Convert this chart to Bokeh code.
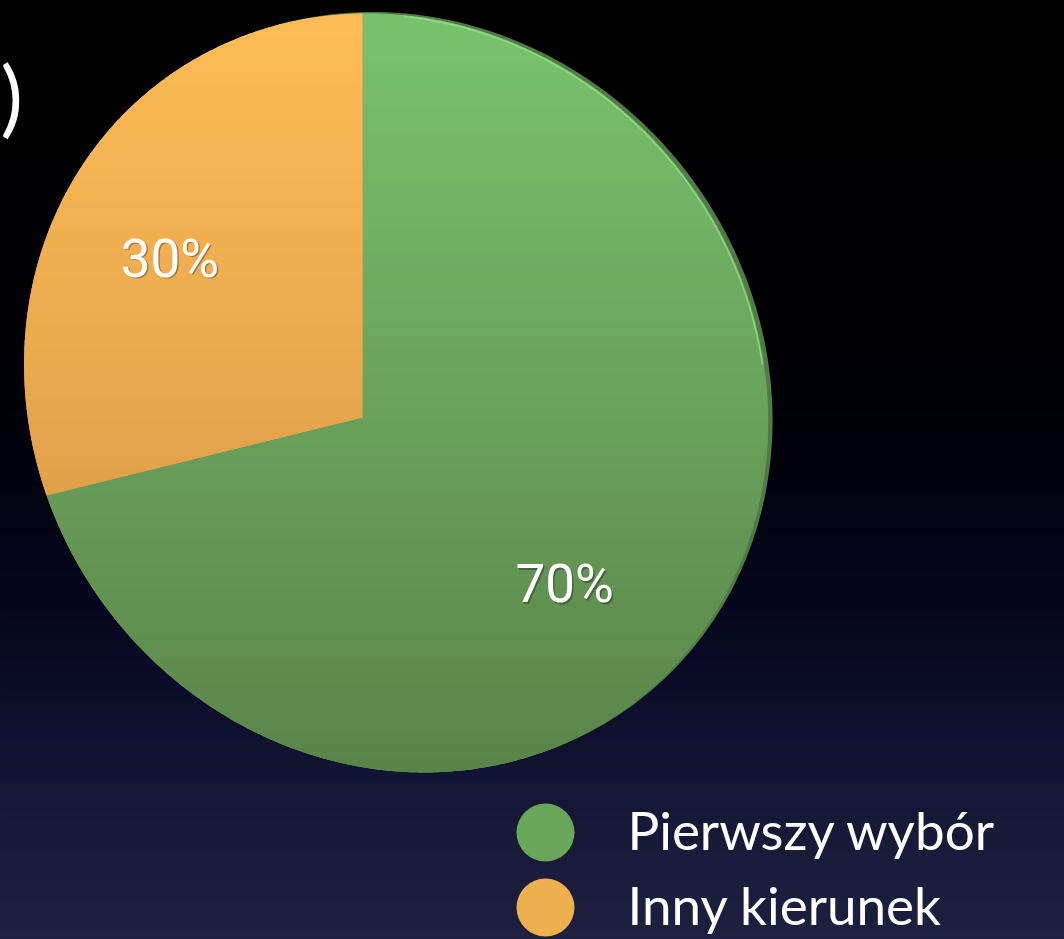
import numpy as np
from bokeh.plotting import figure
from bokeh.models import Range1d
from bokeh.core.properties import value
from bokeh.embed import file_html
from bokeh.resources import INLINE

# ---------------- data ----------------
categories = ["Pierwszy wybór", "Inny kierunek"]
shares = [70, 30]
pct_labels = ["70%", "30%"]
title_fragment = ")"

# ---------------- style ----------------
face_top = [(121, 194, 109), (255, 188, 86)]
face_bottom = [(90, 132, 73), (208, 146, 67)]
legend_colors = ["#6aa65a", "#eeb04c"]
rim_color = "#4f7b45"
label_radius = [0.665, 0.66]

W, H = 1064, 939
p = figure(width=W, height=H, output_backend="svg", toolbar_location=None,
           x_range=Range1d(0, W), y_range=Range1d(H, 0),
           min_border=0, border_fill_color=None, background_fill_color=None)
p.axis.visible = False
p.grid.visible = False
p.outline_line_color = None

# background gradient
bg_stops = [(0, (0, 0, 0)), (330, (0, 0, 3)), (480, (1, 1, 14)), (600, (5, 5, 30)),
            (700, (12, 13, 42)), (800, (21, 23, 52)), (939, (30, 32, 64))]
def bg_color(y):
    ys = [s[0] for s in bg_stops]
    c = [int(round(np.interp(y, ys, [s[1][k] for s in bg_stops]))) for k in range(3)]
    return "#%02x%02x%02x" % tuple(c)
bt = list(range(0, 940, 10))
p.quad(left=-10, right=W + 10, top=bt, bottom=[b + 11 for b in bt],
       fill_color=[bg_color(b + 5) for b in bt], line_color=None)

# perspective mapping of the pie disc
CX, CY = 362.0, 417.0
A, B, D, E, G, Hh = 368.0, 0.0, 31.0, -374.9, -0.09, -0.072
def project(x, y):
    w = 1 + G * x + Hh * y
    return CX + (A * x + B * y) / w, CY + (D * x + E * y) / w

fr = np.array(shares, dtype=float) / np.sum(shares)
ends = 90 - 360 * np.cumsum(fr)
starts = np.concatenate([[90.0], ends[:-1]])

def wedge_poly(a0, a1, r=1.0):
    n = max(4, int(abs(a1 - a0) * 2))
    th = np.radians(np.linspace(a0, a1, n))
    u0, v0 = project(0, 0)
    xs, ys = [u0], [v0]
    for t in th:
        u, v = project(r * np.cos(t), r * np.sin(t))
        xs.append(u); ys.append(v)
    return xs, ys

def clip(poly, y0, keep_ge):
    out = []
    n = len(poly)
    for i in range(n):
        P = poly[i]; Q = poly[(i + 1) % n]
        inP = P[1] >= y0 if keep_ge else P[1] <= y0
        inQ = Q[1] >= y0 if keep_ge else Q[1] <= y0
        if inP:
            out.append(P)
        if inP != inQ:
            t = (y0 - P[1]) / (Q[1] - P[1])
            out.append((P[0] + t * (Q[0] - P[0]), y0))
    return out

# rim (depth edge)
th = np.radians(np.linspace(0, 360, 361))
rim = [project(np.cos(t), np.sin(t)) for t in th]
p.patch([q[0] + 4.5 for q in rim], [q[1] - 1.5 for q in rim], fill_color=rim_color, line_color=None)

Y_TOP, Y_BOT = 13.0, 771.0
def face_color(i, y):
    f = (y - Y_TOP) / (Y_BOT - Y_TOP)
    c = [int(round(face_top[i][k] + f * (face_bottom[i][k] - face_top[i][k]))) for k in range(3)]
    c = [min(255, max(0, v)) for v in c]
    return "#%02x%02x%02x" % tuple(c)

for i in range(len(shares)):
    xs, ys = wedge_poly(starts[i], ends[i])
    p.patch(xs, ys, fill_color=face_color(i, 400), line_color=None)
    poly = list(zip(xs, ys))
    bxs, bys, bcs = [], [], []
    for y0 in range(0, 800, 12):
        part = clip(clip(poly, y0, True), y0 + 13, False)
        if len(part) >= 3:
            bxs.append([q[0] for q in part]); bys.append([q[1] for q in part])
            bcs.append(face_color(i, y0 + 6))
    p.patches(bxs, bys, fill_color=bcs, line_color=None)

# highlight along the upper-right edge
th = np.radians(np.linspace(12, 84, 80))
hl = [project(0.997 * np.cos(t), 0.997 * np.sin(t)) for t in th]
p.line([q[0] for q in hl], [q[1] for q in hl], line_color="#96e08a", line_width=1.6, line_alpha=0.75)

# percentage labels
mids = np.radians((starts + ends) / 2)
lx, ly = [], []
for i in range(len(shares)):
    u, v = project(label_radius[i] * np.cos(mids[i]), label_radius[i] * np.sin(mids[i]))
    lx.append(u); ly.append(v)
p.text([x + 1.5 for x in lx], [y + 1.5 for y in ly], text=pct_labels, text_font=value("Roboto"),
       text_font_size="53px", text_color="#000000", text_alpha=0.3,
       text_align="center", text_baseline="middle")
p.text(lx, ly, text=pct_labels, text_font=value("Roboto"), text_font_size="53px",
       text_color="#ffffff", text_align="center", text_baseline="middle")

# legend
leg_y = [832 + 75 * k for k in range(len(categories))]
p.scatter([545] * len(categories), leg_y, size=58, fill_color=legend_colors, line_color=None)
p.text([627] * len(categories), [y - 3 for y in leg_y], text=categories, text_font=value("Lato"),
       text_font_size="53px", text_color="#ffffff", text_align="left", text_baseline="alphabetic")

# cut-off title fragment
p.text([0], [94], text=[title_fragment], text_font=value("Lato"), text_font_size="84px",
       text_color="#ffffff", text_align="left", text_baseline="alphabetic")

html = file_html(p, INLINE)
css = ("<style>html,body{overflow:hidden;background:linear-gradient(to bottom,#000000 0px,"
       "#000003 330px,#01010e 480px,#05051e 600px,#0c0d2a 700px,#151734 800px,#1e2040 939px);}</style>")
html = html.replace("</head>", css + "</head>", 1)
open("out.html", "w").write(html)
